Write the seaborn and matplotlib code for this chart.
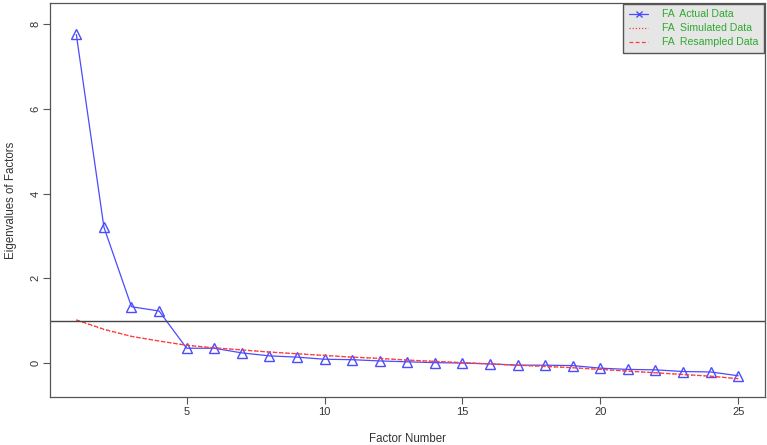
import matplotlib
matplotlib.use("Agg")
import matplotlib.pyplot as plt
import seaborn as sns
import pandas as pd
import numpy as np

# values
factor_number = list(range(1, 26))
actual_data = [7.76, 3.21, 1.33, 1.23, 0.35, 0.35, 0.24, 0.17, 0.14, 0.09,
               0.08, 0.05, 0.03, 0.01, 0.00, -0.02, -0.05, -0.05, -0.06, -0.12,
               -0.15, -0.16, -0.20, -0.21, -0.30]
simulated_data = [1.01, 0.79, 0.63, 0.52, 0.42, 0.36, 0.31, 0.26, 0.22, 0.18,
                  0.14, 0.11, 0.07, 0.04, 0.01, -0.02, -0.05, -0.08, -0.11, -0.15,
                  -0.19, -0.23, -0.27, -0.31, -0.37]
resampled_data = [1.02, 0.80, 0.63, 0.52, 0.42, 0.36, 0.31, 0.26, 0.22, 0.18,
                  0.14, 0.11, 0.07, 0.04, 0.01, -0.02, -0.05, -0.08, -0.11, -0.15,
                  -0.19, -0.23, -0.27, -0.31, -0.37]
legend_labels = ["FA  Actual Data", "FA  Simulated Data", "FA  Resampled Data"]

df = pd.DataFrame({"factor": factor_number, "actual": actual_data,
                   "simulated": simulated_data, "resampled": resampled_data})

sns.set_style("white")
plt.rcParams["font.family"] = ["Liberation Sans", "DejaVu Sans"]

fig = plt.figure(figsize=(7.67, 4.45), dpi=100)
ax = fig.add_axes([0.065, 0.108, 0.932, 0.885])

blue = "#4b4bff"
red = "#ff3c3c"
sns.lineplot(data=df, x="factor", y="actual", ax=ax, color=blue, lw=0.9,
             marker="^", markersize=6.5, markerfacecolor="none",
             markeredgecolor=blue, markeredgewidth=1.0, label=legend_labels[0])
sns.lineplot(data=df, x="factor", y="simulated", ax=ax, color=red, lw=0.9,
             linestyle=(0, (1, 1.5)), label=legend_labels[1])
sns.lineplot(data=df, x="factor", y="resampled", ax=ax, color=red, lw=0.9,
             linestyle=(0, (3, 2)), label=legend_labels[2])
ax.axhline(1, color="#444444", lw=1.0)

ax.set_xlim(0.04, 25.96)
ax.set_ylim(-0.8, 8.5)
ax.set_xticks([5, 10, 15, 20, 25])
ax.set_yticks([0, 2, 4, 6, 8])
ax.tick_params(axis="both", direction="out", length=5, width=0.8, color="#555555",
               labelsize=8, labelcolor="#333333", bottom=True, left=True)
ax.tick_params(axis="y", pad=1.5)
ax.tick_params(axis="x", pad=2.5)
for lab in ax.get_yticklabels():
    lab.set_rotation(90)
    lab.set_va("center")
for sp in ax.spines.values():
    sp.set_color("#555555")
    sp.set_linewidth(0.9)

ax.set_xlabel("Factor Number", fontsize=8.3, color="#333333", labelpad=11)
ax.set_ylabel("Eigenvalues of Factors", fontsize=8.3, color="#333333", labelpad=10)

# legend: actual data line drawn with x markers like the original
handles, labels = ax.get_legend_handles_labels()
handles[0] = plt.Line2D([], [], color=blue, lw=0.9, marker="x", markersize=5)
leg = ax.legend(handles, labels, loc="upper right", fontsize=7.6, frameon=True,
                fancybox=False, framealpha=1, facecolor="#e6e6e6",
                edgecolor="#555555", borderaxespad=0.05, borderpad=0.55,
                handlelength=1.8, handletextpad=1.3, labelspacing=0.38)
for t in leg.get_texts():
    t.set_color("#2eaa2e")

fig.savefig("out.png", dpi=100)
